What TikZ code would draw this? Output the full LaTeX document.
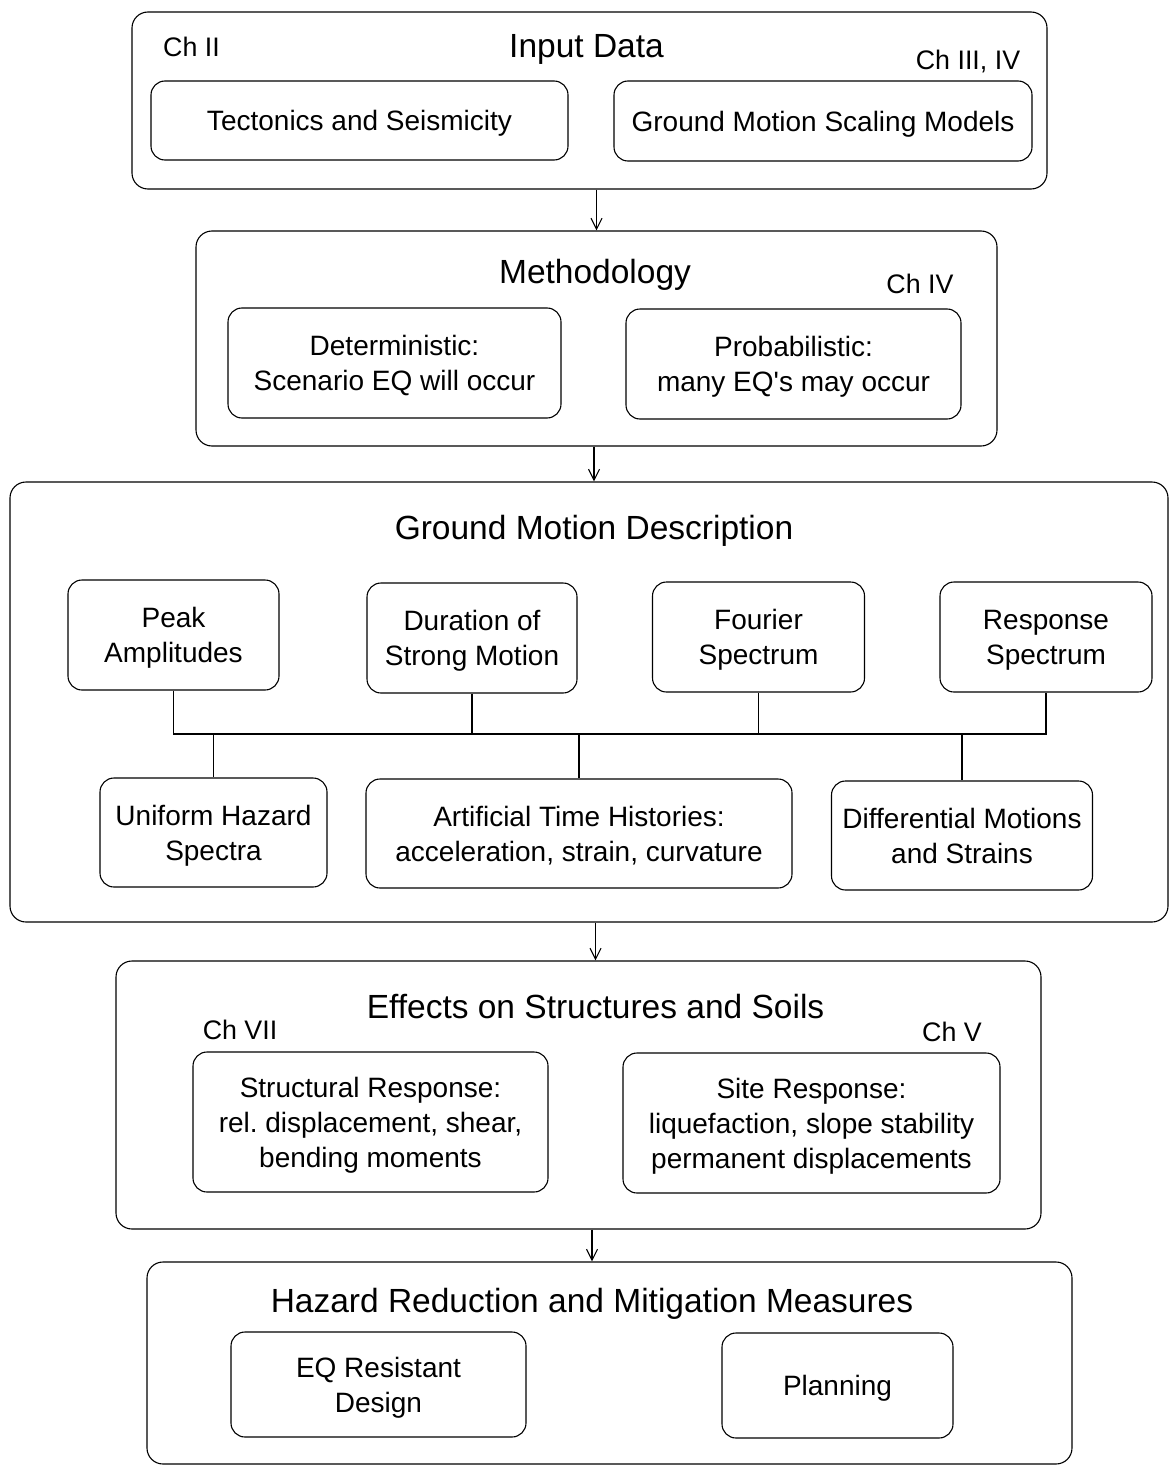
\documentclass[tikz,border=0pt]{standalone}
\usepackage{fontspec}
\setmainfont{Liberation Sans}
\usepackage{tikz}
\usetikzlibrary{arrows.meta}
\usetikzlibrary{positioning}

\newcommand\boxfont{\fontsize{28}{35}\selectfont}
\newcommand\titlefont{\fontsize{33.5}{40}\selectfont}
\newcommand\chapfont{\fontsize{26.8}{32}\selectfont}

\begin{document}
\begin{tikzpicture}
    [x=1pt, y=-1pt,
      % Stil für die grossen Rahmen
      frame/.style={draw, rounded corners=16pt, line width=1.1pt, inner sep=0pt},
      % Stil für die Kästchen
      box/.style={draw, rounded corners=14pt, line width=1.1pt, align=center, inner sep=4pt, text depth=0pt, font=\boxfont},
      % Überschriften und Kapitel
      title/.style={anchor=base, inner sep=0pt, font=\titlefont},
      chap/.style={anchor=base, inner sep=0pt, font=\chapfont},
      % Verbindungen
      link/.style={line width=1.1pt},
      flow/.style={line width=1.1pt, -{Straight Barb[length=11pt,width=11pt]}}]
    \useasboundingbox (0,0) rectangle (1171,1466);

    % Rahmen
    \node[frame, minimum width=915pt, minimum height=177pt] (input) at (589.5,100.5) {};
    \node[frame, minimum width=801pt, minimum height=215pt] (method) at (596.5,338.5) {};
    \node[frame, minimum width=1158pt, minimum height=440pt] (gmd) at (589,702) {};
    \node[frame, minimum width=925pt, minimum height=268pt] (effects) at (578.5,1095) {};
    \node[frame, minimum width=925pt, minimum height=202pt] (hazard) at (609.5,1363) {};

    % Input Data
    \node[title] (inputtitle) at (586.5,58) {Input Data};
    \node[chap] (ch2) at (191.5,57) {Ch II};
    \node[chap] (ch34) at (968,70) {Ch III, IV};
    \node[box, minimum width=417pt, minimum height=79pt] (tect) at (359.5,120.5) {Tectonics and Seismicity};
    \node[box, minimum width=418pt, minimum height=80pt] (scaling) at (823,121) {Ground Motion Scaling Models};

    % Methodology
    \node[title] (methodtitle) at (595,283) {Methodology};
    \node[chap] (ch4) at (920,293) {Ch IV};
    \node[box, minimum width=333pt, minimum height=110pt] (determ) at (394.5,363) {Deterministic:\\Scenario EQ will occur};
    \node[box, minimum width=335pt, minimum height=110pt] (prob) at (793.5,364) {Probabilistic:\\many EQ\textquotesingle s may occur};

    % Ground Motion Description
    \node[title] (gmdtitle) at (594,539) {Ground Motion Description};
    \node[box, minimum width=211pt, minimum height=110pt] (peak) at (173.5,635) {Peak\\Amplitudes};
    \node[box, minimum width=210pt, minimum height=110pt] (dur) at (472,638) {Duration of\\Strong Motion};
    \node[box, minimum width=212pt, minimum height=110pt] (four) at (758.5,637) {Fourier\\Spectrum};
    \node[box, minimum width=212pt, minimum height=110pt] (resp) at (1046,637) {Response\\Spectrum};
    \node[box, minimum width=227pt, minimum height=109pt] (unif) at (213.5,832.5) {Uniform Hazard\\Spectra};
    \node[box, minimum width=426pt, minimum height=109pt] (artif) at (579,833.5) {Artificial Time Histories:\\acceleration, strain, curvature};
    \node[box, minimum width=261pt, minimum height=109pt] (diff) at (962,835.5) {Differential Motions\\and Strains};
    \coordinate (bus) at (0,734);

    % Effects on Structures and Soils
    \node[title] (effectstitle) at (595.5,1018) {Effects on Structures and Soils};
    \node[chap] (ch7) at (240,1039) {Ch VII};
    \node[chap] (ch5) at (952,1041) {Ch V};
    \node[box, minimum width=355pt, minimum height=140pt] (struct) at (370.5,1122) {Structural Response:\\rel.\ displacement, shear,\\bending moments};
    \node[box, minimum width=377pt, minimum height=140pt] (site) at (811.5,1123) {Site Response:\\liquefaction, slope stability\\permanent displacements};

    % Hazard Reduction
    \node[title] (hazardtitle) at (592,1312) {Hazard Reduction and Mitigation Measures};
    \node[box, minimum width=295pt, minimum height=105pt] (design) at (378.5,1384.5) {EQ Resistant\\Design};
    \node[box, minimum width=231pt, minimum height=105pt] (plan) at (837.5,1385.5) {Planning};

    % Kanten
    \draw[link] (peak) -- (peak |- bus) -- (resp |- bus) -- (resp);
    \draw[link] (dur) -- (dur |- bus);
    \draw[link] (four) -- (four |- bus);
    \draw[link] (unif |- bus) -- (unif);
    \draw[link] (artif |- bus) -- (artif);
    \draw[link] (diff |- bus) -- (diff);

    \path[flow]
      (input.south -| method) edge (method)
      (method.south -| gmdtitle) edge (gmd.north -| gmdtitle)
      (gmd.south -| effectstitle) edge (effects.north -| effectstitle)
      (effects.south -| hazardtitle) edge (hazard.north -| hazardtitle);
\end{tikzpicture}
\end{document}
